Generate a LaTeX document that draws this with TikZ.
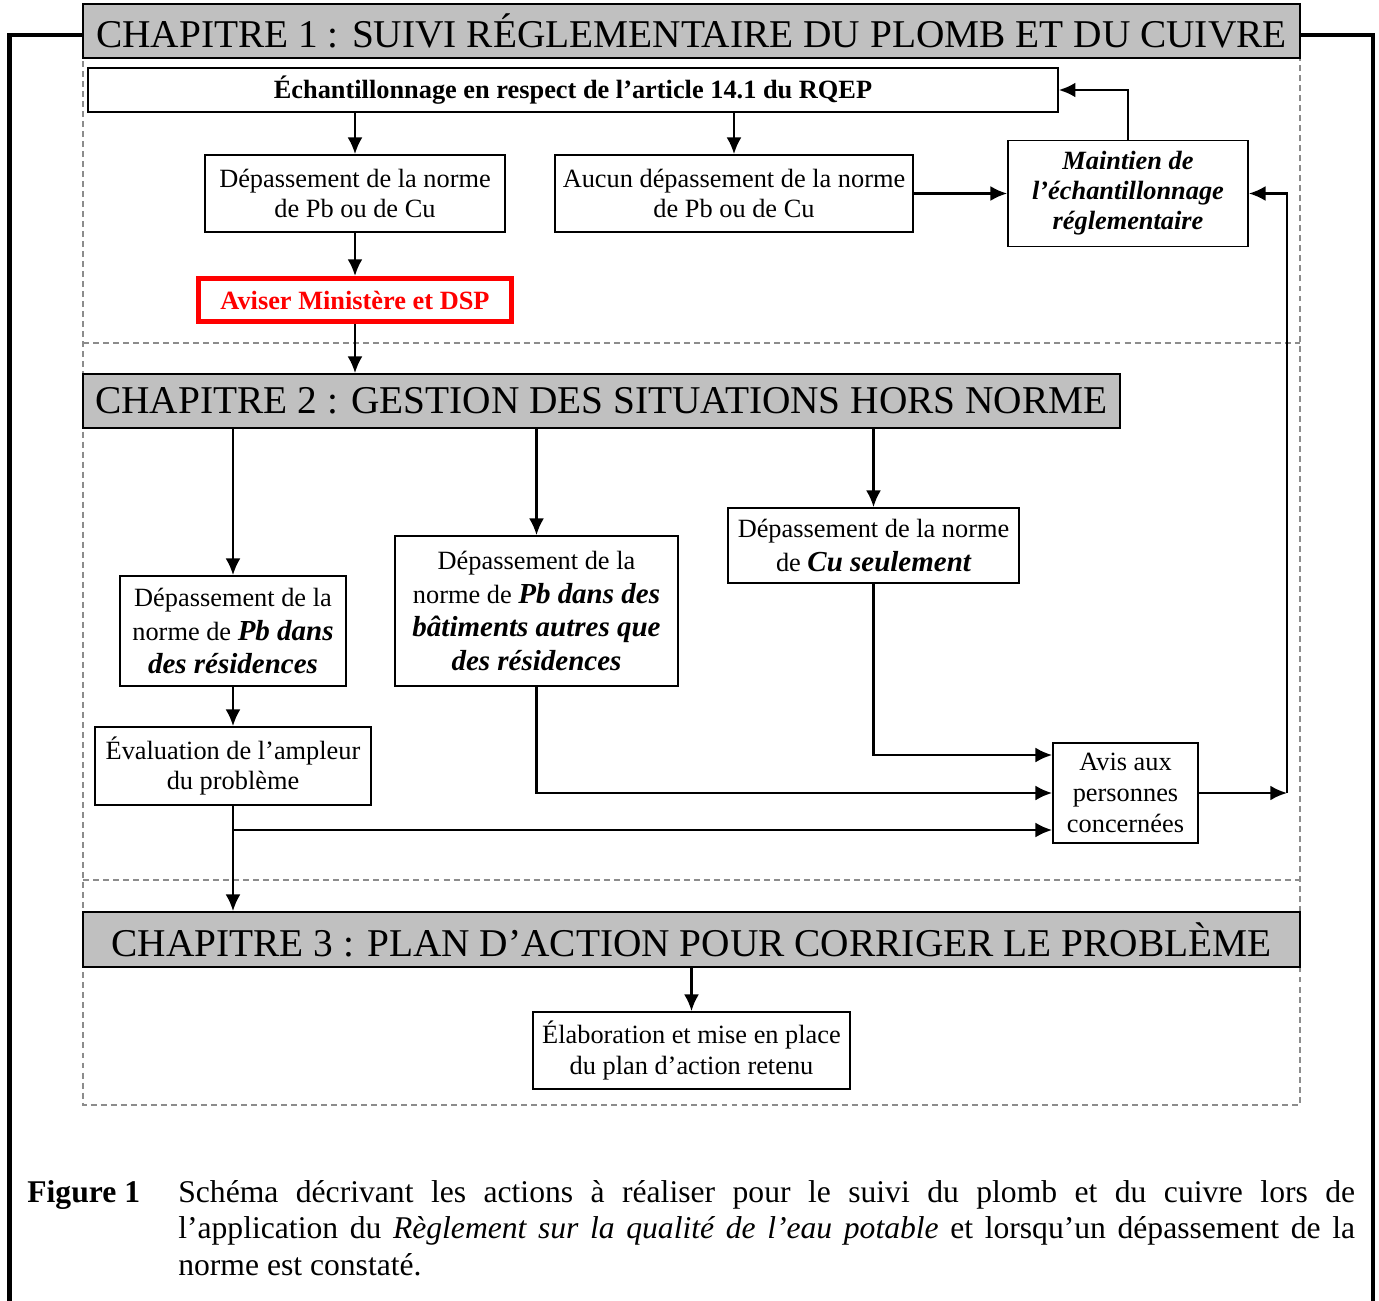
\documentclass[tikz,border=0pt]{standalone}
\usepackage{fontspec}
\setmainfont{Liberation Serif}
\usetikzlibrary{arrows.meta}
\definecolor{titregris}{RGB}{192,192,192}
\definecolor{tiret}{RGB}{140,140,140}
\newcommand{\fort}[1]{{\fontsize{16.5}{19}\selectfont\bfseries\itshape #1}}
\tikzset{
  titre/.style={draw, line width=1pt, fill=titregris, inner sep=0pt,
    font=\fontsize{22.4}{26}\selectfont},
  boite/.style={draw, line width=1pt, inner sep=0pt, align=center,
    font=\fontsize{15}{17.6}\selectfont},
  fleche/.style={->, line width=1.4pt},
  zone/.style={draw=tiret, line width=.85pt, dash pattern=on 3.4pt off 2.3pt},
}
\begin{document}
\begin{tikzpicture}[>={Latex[length=9.5pt,width=8.5pt]}, x=.02cm, y=-.02cm]
\useasboundingbox (0,0) rectangle (1379,1301);
% cadre et zones pointillees
\draw[line width=2.8pt] (9.5,1301) -- (9.5,35) -- (90,35);
\draw[line width=2.8pt] (1290,35) -- (1373,35) -- (1373,1301);
\draw[zone] (83,31) -- (83,1105) -- (1300,1105) -- (1300,31);
\draw[zone] (83,343) -- (1300,343);
\draw[zone] (83,880) -- (1300,880);

% chapitre 1
\node[titre, minimum width=24.34cm, minimum height=1.08cm] (ch1) at (691.5,31)
  {CHAPITRE 1 : SUIVI RÉGLEMENTAIRE DU PLOMB ET DU CUIVRE};
\node[boite, font=\fontsize{15}{17.6}\selectfont\bfseries, minimum width=19.4cm, minimum height=.88cm]
  (ech) at (573,90) {Échantillonnage en respect de l’article 14.1 du RQEP};
\node[boite, minimum width=6cm, minimum height=1.54cm] (dep) at (355,193.5)
  {Dépassement de la norme\\de Pb ou de Cu};
\node[boite, minimum width=7.16cm, minimum height=1.54cm] (aucun) at (734,193.5)
  {Aucun dépassement de la norme\\de Pb ou de Cu};
\node[boite, font=\fontsize{15}{17}\selectfont\bfseries\itshape, minimum width=4.8cm, minimum height=2.12cm]
  (maintien) at (1128,193.5) {Maintien de\\l’échantillonnage\\réglementaire};
\node[boite, draw=red, line width=2.85pt, text=red, font=\fontsize{15}{17.6}\selectfont\bfseries,
  minimum width=6.26cm, minimum height=.86cm] (aviser) at (355,300) {Aviser Ministère et DSP};

% chapitre 2
\node[titre, minimum width=20.74cm, minimum height=1.08cm] (ch2) at (601.5,401)
  {CHAPITRE 2 : GESTION DES SITUATIONS HORS NORME};
\node[boite, font=\fontsize{15}{19}\selectfont, minimum width=4.52cm, minimum height=2.2cm]
  (pbres) at (233,631) {Dépassement de la\\norme de \fort{Pb dans}\\\fort{des résidences}};
\node[boite, font=\fontsize{15}{19.3}\selectfont, minimum width=5.66cm, minimum height=3cm]
  (pbbat) at (536.5,611)
  {Dépassement de la\\norme de \fort{Pb dans des}\\\fort{bâtiments autres que}\\\fort{des résidences}};
\node[boite, font=\fontsize{15}{19}\selectfont, minimum width=5.82cm, minimum height=1.5cm]
  (cu) at (873.5,545.5) {Dépassement de la norme\\de \fort{Cu seulement}};
\node[boite, minimum width=5.52cm, minimum height=1.56cm] (eval) at (233,766)
  {Évaluation de l’ampleur\\du problème};
\node[boite, minimum width=2.9cm, minimum height=2cm] (avis) at (1125.5,793)
  {Avis aux\\personnes\\concernées};

% chapitre 3
\node[titre, minimum width=24.34cm, minimum height=1.1cm] (ch3) at (691.5,939.5)
  {CHAPITRE 3 : PLAN D’ACTION POUR CORRIGER LE PROBLÈME};
\node[boite, minimum width=6.34cm, minimum height=1.54cm] (elab) at (691.5,1050.5)
  {Élaboration et mise en place\\du plan d’action retenu};

% legende
\node[anchor=north west, inner sep=0pt, text width=26.56cm, align=justify,
  font=\fontsize{18}{20.8}\selectfont] (legende) at (27,1180)
  {\hangindent=3.02cm \hangafter=1 \noindent\makebox[3.02cm][l]{\bfseries Figure 1}Schéma décrivant les actions à réaliser pour le suivi du plomb et du cuivre lors de\linebreak l’application du \textit{Règlement sur la qualité de l’eau potable} et lorsqu’un dépassement de la\linebreak norme est constaté.\par};

% fleches
\draw[fleche] (ech.south -| dep.north) -- (dep.north);
\draw[fleche] (ech.south -| aucun.north) -- (aucun.north);
\draw[fleche] (aucun.east) -- (maintien.west);
\draw[fleche] (maintien.north) |- (ech.east);
\draw[fleche] (dep.south) -- (aviser.north);
\draw[fleche] (aviser.south) -- (aviser.south |- ch2.north);
\draw[fleche] (ch2.south -| pbres.north) -- (pbres.north);
\draw[fleche] (ch2.south -| pbbat.north) -- (pbbat.north);
\draw[fleche] (ch2.south -| cu.north) -- (cu.north);
\draw[fleche] (pbres.south) -- (eval.north);
\draw[fleche] (cu.south) |- ([yshift=.76cm]avis.west);
\draw[fleche] (pbbat.south) |- (avis.west);
\coordinate (branche) at ([yshift=-.74cm]avis.west);
\draw[fleche] (eval.south) -- (eval.south |- ch3.north);
\draw[fleche] (eval.south |- branche) -- (branche);
\coordinate (retour) at (1287,793);
\draw[fleche] (avis.east) -- (retour);
\draw[fleche] (retour) |- (maintien.east);
\draw[fleche] (ch3.south) -- (elab.north);
\end{tikzpicture}
\end{document}
